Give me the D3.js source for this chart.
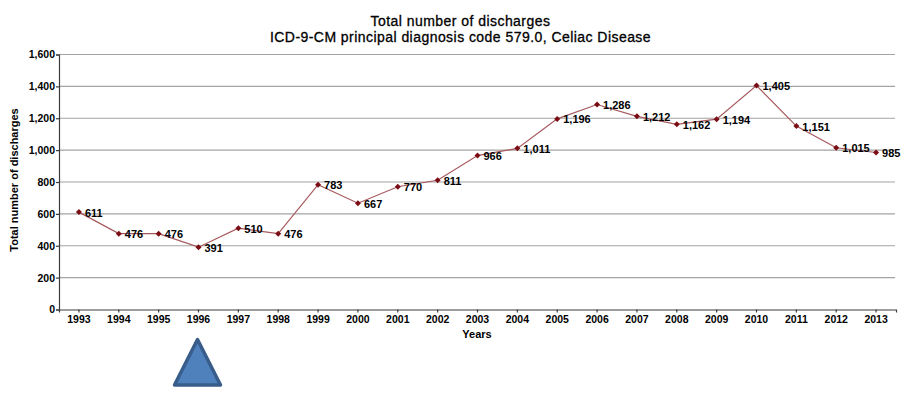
<!DOCTYPE html>
<html>
<head>
<meta charset="utf-8">
<script src="https://cdn.jsdelivr.net/npm/d3@7"></script>
<style>
  html, body { margin: 0; padding: 0; background: #fff; }
  svg { display: block; }
  text { font-family: "Liberation Sans", Arial, sans-serif; fill: #000; }
  .tick-label { font-size: 10.5px; font-weight: bold; }
  .value-label { font-size: 11px; font-weight: bold; }
  .axis-title { font-size: 11px; font-weight: bold; }
  .title { font-size: 14px; letter-spacing: 0.45px; stroke: #000; stroke-width: 0.3px; }
</style>
</head>
<body>
<svg></svg>
<script>
const years = [1993, 1994, 1995, 1996, 1997, 1998, 1999, 2000, 2001, 2002, 2003, 2004, 2005, 2006, 2007, 2008, 2009, 2010, 2011, 2012, 2013];
const discharges = [611, 476, 476, 391, 510, 476, 783, 667, 770, 811, 966, 1011, 1196, 1286, 1212, 1162, 1194, 1405, 1151, 1015, 985];
const yTicks = [0, 200, 400, 600, 800, 1000, 1200, 1400, 1600];
const titleLines = ["Total number of discharges", "ICD-9-CM principal diagnosis code 579.0, Celiac Disease"];
const markedYear = 1996;

const width = 913;
const height = 395;
const margin = { top: 54.5, right: 17, bottom: 85.5, left: 59 };

const svg = d3.select("svg").attr("width", width).attr("height", height);

const x = d3.scaleBand()
    .domain(years)
    .range([margin.left, width - margin.right]);

const y = d3.scaleLinear()
    .domain([0, 1600])
    .range([height - margin.bottom, margin.top]);

const cx = d => x(d) + x.bandwidth() / 2;

// gridlines
svg.append("g")
    .selectAll("line")
    .data(yTicks.filter(d => d > 0))
    .join("line")
    .attr("x1", margin.left)
    .attr("x2", width - margin.right - 1)
    .attr("y1", d => y(d))
    .attr("y2", d => y(d))
    .attr("stroke", "#a3a3a3")
    .attr("stroke-width", 1.2);

// axes
const yAxis = svg.append("g")
    .attr("transform", `translate(${margin.left},0)`)
    .call(d3.axisLeft(y).tickValues(yTicks).tickFormat(d3.format(",")).tickSize(3).tickPadding(1));

const xAxis = svg.append("g")
    .attr("transform", `translate(0,${height - margin.bottom})`)
    .call(d3.axisBottom(x).tickFormat(d3.format("d")).tickSize(3).tickPadding(3));

[yAxis, xAxis].forEach(a => {
    a.attr("font-family", null).attr("font-size", null);
    a.selectAll("text").attr("class", "tick-label");
    a.selectAll("line, path").attr("stroke", "#3c3c3c").attr("stroke-width", 1.2);
});

// series line
const line = d3.line()
    .x((d, i) => cx(years[i]))
    .y(d => y(d));

svg.append("path")
    .datum(discharges)
    .attr("fill", "none")
    .attr("stroke", "#a5585c")
    .attr("stroke-width", 1.2)
    .attr("d", line);

// diamonds, a rotated square is wider than d3's symbolDiamond
svg.append("g")
    .selectAll("path")
    .data(discharges)
    .join("path")
    .attr("d", d3.symbol(d3.symbolSquare, 18))
    .attr("transform", (d, i) => `translate(${cx(years[i])},${y(d)}) rotate(45)`)
    .attr("fill", "#7a0c14");

// value labels
svg.append("g")
    .selectAll("text")
    .data(discharges)
    .join("text")
    .attr("class", "value-label")
    .attr("x", (d, i) => cx(years[i]) + 6)
    .attr("y", d => y(d) + 4.5)
    .text(d => d3.format(",")(d));

// title, two lines in one text element
svg.append("text")
    .attr("class", "title")
    .attr("text-anchor", "middle")
    .selectAll("tspan")
    .data(titleLines)
    .join("tspan")
    .attr("x", 460.5)
    .attr("y", (d, i) => 25.5 + i * 16.3)
    .text(d => d);

svg.append("text")
    .attr("class", "axis-title")
    .attr("x", 477)
    .attr("y", 338)
    .attr("text-anchor", "middle")
    .text("Years");

svg.append("text")
    .attr("class", "axis-title")
    .attr("transform", `translate(18,${(y(0) + y(1600)) / 2 - 2}) rotate(-90)`)
    .attr("text-anchor", "middle")
    .text("Total number of discharges");

// triangle pointing at the marked year
const triX = cx(markedYear) - 1;
svg.append("path")
    .attr("d", d3.line()([[triX, 339.5], [triX + 23, 385], [triX - 23, 385]]) + "Z")
    .attr("fill", "#4f81bd")
    .attr("stroke", "#385d8a")
    .attr("stroke-width", 3.5)
    .attr("stroke-linejoin", "round");
</script>
</body>
</html>
